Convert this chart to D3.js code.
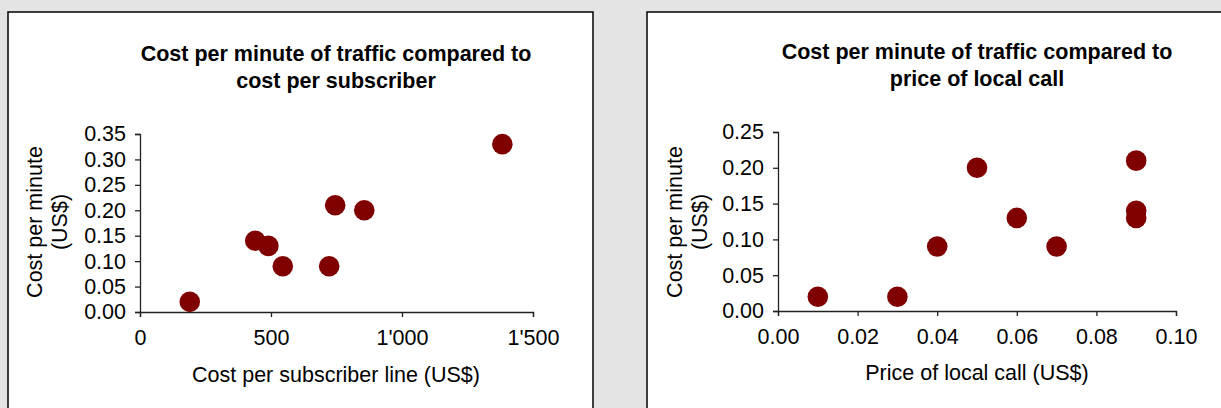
<!DOCTYPE html>
<html>
<head>
<meta charset="utf-8">
<script src="https://cdn.jsdelivr.net/npm/d3@7"></script>
<style>
  html, body { margin: 0; padding: 0; background: #e4e4e4; }
  svg { display: block; }
  text { font-family: "Liberation Sans", Arial, sans-serif; fill: #000; }
</style>
</head>
<body>
<svg id="chart" width="1221" height="408"></svg>
<script>
// Left chart: cost per subscriber line vs cost per minute
const subscriberCost = [190, 440, 490, 545, 722, 745, 856, 1383];
const subscriberCostPerMinute = [0.02, 0.14, 0.13, 0.09, 0.09, 0.21, 0.20, 0.33];

// Right chart: price of local call vs cost per minute
const localCallPrice = [0.01, 0.03, 0.04, 0.05, 0.06, 0.07, 0.09, 0.09, 0.09];
const localCallCostPerMinute = [0.02, 0.02, 0.09, 0.20, 0.13, 0.09, 0.21, 0.14, 0.13];

const leftXTicks = [0, 500, 1000, 1500];
const leftYTicks = [0, 0.05, 0.10, 0.15, 0.20, 0.25, 0.30, 0.35];
const rightXTicks = [0, 0.02, 0.04, 0.06, 0.08, 0.10];
const rightYTicks = [0, 0.05, 0.10, 0.15, 0.20, 0.25];

const leftTitle = ["Cost per minute of traffic compared to", "cost per subscriber"];
const rightTitle = ["Cost per minute of traffic compared to", "price of local call"];
const yTitle = ["Cost per minute", "(US$)"];
const leftXTitle = "Cost per subscriber line (US$)";
const rightXTitle = "Price of local call (US$)";

const svg = d3.select("#chart");
const dotColor = "#800000";
const fontSize = 21.5;

const apostrophe = d3.formatLocale({ decimal: ".", thousands: "'", grouping: [3], currency: ["$", ""] });

function panel(cfg) {
  // white chart area with dark frame
  svg.append("rect")
    .attr("x", cfg.frame[0]).attr("y", cfg.frame[1])
    .attr("width", cfg.frame[2]).attr("height", cfg.frame[3])
    .attr("fill", "#fff").attr("stroke", "#000").attr("stroke-width", 1.5);

  const x = d3.scaleLinear().domain(cfg.xDomain).range(cfg.xRange);
  const y = d3.scaleLinear().domain(cfg.yDomain).range(cfg.yRange);

  const g = svg.append("g");

  const xAxis = g.append("g")
    .attr("transform", `translate(0,${cfg.yRange[0]})`)
    .call(d3.axisBottom(x).tickValues(cfg.xTicks).tickFormat(cfg.xFormat).tickSize(5).tickPadding(13));
  const yAxis = g.append("g")
    .attr("transform", `translate(${cfg.xRange[0]},0)`)
    .call(d3.axisLeft(y).tickValues(cfg.yTicks).tickFormat(d3.format(".2f")).tickSize(5).tickPadding(9));

  [xAxis, yAxis].forEach(a => {
    a.select(".domain").attr("stroke", "#222").attr("stroke-width", 1.3);
    a.selectAll(".tick line").attr("stroke", "#222").attr("stroke-width", 1.3);
    a.selectAll(".tick text").attr("fill", "#000")
      .style("font-family", '"Liberation Sans", Arial, sans-serif')
      .style("font-size", fontSize + "px");
  });

  // points
  g.append("g").selectAll("circle")
    .data(cfg.xs.map((v, i) => [v, cfg.ys[i]]))
    .join("circle")
    .attr("cx", d => x(d[0]))
    .attr("cy", d => y(d[1]))
    .attr("r", 10.3)
    .attr("fill", dotColor);

  // chart title
  const cx = cfg.titleX;
  g.append("text")
    .attr("text-anchor", "middle")
    .attr("font-weight", "bold")
    .style("font-size", fontSize + "px")
    .selectAll("tspan")
    .data(cfg.title)
    .join("tspan")
    .attr("x", cx)
    .attr("y", (d, i) => cfg.titleY + i * 26.5)
    .text(d => d);

  // x-axis title
  g.append("text")
    .attr("text-anchor", "middle")
    .attr("x", cfg.titleX)
    .attr("y", cfg.xTitleY)
    .style("font-size", fontSize + "px")
    .text(cfg.xTitle);

  // y-axis title (two lines, rotated)
  const yt = g.append("text")
    .attr("text-anchor", "middle")
    .attr("transform", `translate(${cfg.yTitleX},${cfg.yTitleY}) rotate(-90)`)
    .style("font-size", fontSize + "px");
  yt.selectAll("tspan")
    .data(yTitle)
    .join("tspan")
    .attr("x", 0)
    .attr("y", (d, i) => i * 25)
    .text(d => d);
}

panel({
  frame: [8, 12, 585, 420],
  xDomain: [0, 1500], xRange: [140, 533],
  yDomain: [0, 0.35], yRange: [312, 134],
  xTicks: leftXTicks, yTicks: leftYTicks,
  xFormat: apostrophe.format(","),
  xs: subscriberCost, ys: subscriberCostPerMinute,
  title: leftTitle, titleX: 336, titleY: 61,
  xTitle: leftXTitle, xTitleY: 382,
  yTitleX: 42, yTitleY: 222
});

panel({
  frame: [647, 12, 600, 420],
  xDomain: [0, 0.10], xRange: [778, 1176],
  yDomain: [0, 0.25], yRange: [311, 132],
  xTicks: rightXTicks, yTicks: rightYTicks,
  xFormat: d3.format(".2f"),
  xs: localCallPrice, ys: localCallCostPerMinute,
  title: rightTitle, titleX: 977, titleY: 59,
  xTitle: rightXTitle, xTitleY: 380,
  yTitleX: 682, yTitleY: 222
});
</script>
</body>
</html>
